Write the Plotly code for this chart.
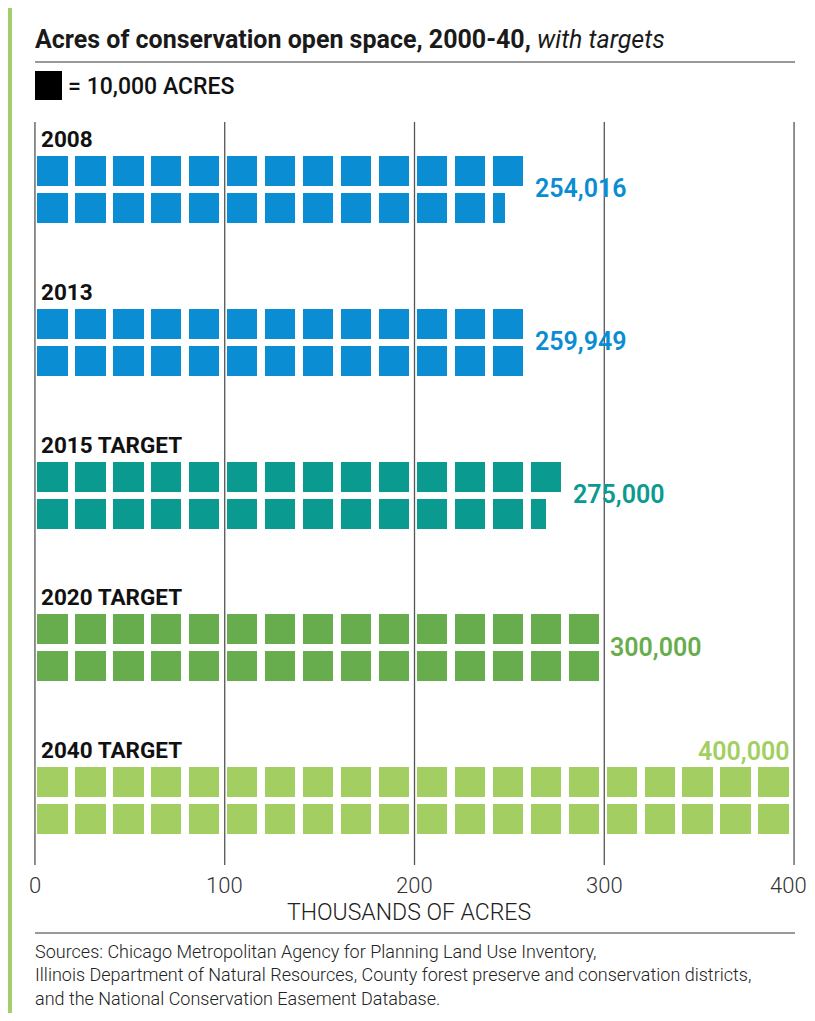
import math
import plotly.graph_objects as go

# values in acres, one square = 10,000 acres, two rows per category
categories = ["2008", "2013", "2015 TARGET", "2020 TARGET", "2040 TARGET"]
acres = [254016, 259949, 275000, 300000, 400000]
value_labels = ["254,016", "259,949", "275,000", "300,000", "400,000"]
colors = ["#0a8dd3", "#0a8dd3", "#0a9a8f", "#68ad4d", "#a3cf62"]
tick_vals = [0, 100, 200, 300, 400]
tick_text = ["0", "100", "200", "300", "400"]

SQUARE = 10000
# the page body adds an 8px margin, so the figure is 16px smaller than the window
OFF = 8
W, H = 815 - 2 * OFF, 1021 - 2 * OFF
PLOT_TOP, PLOT_BOT = 122, 865          # page pixels
PLOT_L, PLOT_R = 34, 795
FONT = "Roboto, 'Open Sans', sans-serif"


def py(pix):
    # page pixel (from top) -> paper y
    return (PLOT_BOT - pix) / (PLOT_BOT - PLOT_TOP)


def px(pix):
    return (pix - PLOT_L) / (PLOT_R - PLOT_L)


fig = go.Figure()

group_top0, group_pitch = 156, 152.75
sq_w, sq_off, row_h, row_pitch = 16.0, 1.2, 30, 37

for i, (cat, val, col) in enumerate(zip(categories, acres, colors)):
    n = val / SQUARE
    full_cols = math.floor(n / 2)
    rem = n - 2 * full_cols
    top = group_top0 + i * group_pitch
    ys, xs, bases = [], [], []
    for c in range(full_cols):
        for r in range(2):
            ys.append(top + 15 + r * row_pitch)
            xs.append(sq_w)
            bases.append(c * 20 + sq_off)
    if rem > 0:
        top_frac = min(rem, 1)
        bot_frac = max(rem - 1, 0)
        ys.append(top + 15)
        xs.append(sq_w * top_frac)
        bases.append(full_cols * 20 + sq_off)
        if bot_frac > 0:
            ys.append(top + 15 + row_pitch)
            xs.append(sq_w * bot_frac)
            bases.append(full_cols * 20 + sq_off)
    fig.add_trace(go.Bar(
        x=xs, y=ys, base=bases, orientation="h", width=row_h,
        marker=dict(color=col, line=dict(width=0)),
        hoverinfo="skip", showlegend=False,
    ))

    # category label
    fig.add_annotation(
        x=px(39), y=py(top - 17), xref="paper", yref="paper",
        text=f"<b>{cat}</b>", showarrow=False, xanchor="left", yanchor="middle",
        font=dict(family=FONT, size=22.5, color="#111111"),
    )
    # value label, beside the bar or above it when there is no room
    top_end = (full_cols - (0 if rem > 0 else 1)) * 20 + sq_off + sq_w
    if top_end + 50 > 400:
        fig.add_annotation(
            x=399, y=py(top - 16), xref="x", yref="paper",
            text=value_labels[i], showarrow=False, xanchor="right", yanchor="middle",
            font=dict(family=FONT, size=25, color=col, weight=600),
        )
    else:
        fig.add_annotation(
            x=top_end + 5, y=py(top + 33), xref="x", yref="paper",
            text=value_labels[i], showarrow=False, xanchor="left", yanchor="middle",
            font=dict(family=FONT, size=25, color=col, weight=600),
        )

# x tick labels; the last one is nudged left so it stays on the page
for t, lab in zip(tick_vals, tick_text):
    fig.add_annotation(
        x=t, y=py(885), xref="x", yref="paper", text=lab, showarrow=False,
        xanchor="center", yanchor="middle", xshift=-6 if t == tick_vals[-1] else 0,
        font=dict(family=FONT, size=22, color="#333333", weight=300),
    )
fig.add_annotation(
    x=px(409), y=py(912), xref="paper", yref="paper", text="THOUSANDS OF ACRES",
    showarrow=False, xanchor="center", yanchor="middle",
    font=dict(family=FONT, size=23, color="#222222", weight=300),
)

# title
fig.add_annotation(
    x=px(33), y=py(40), xref="paper", yref="paper",
    text="<b>Acres of conservation open space, 2000-40,</b> <i>with targets</i>",
    showarrow=False, xanchor="left", yanchor="middle",
    font=dict(family=FONT, size=25, color="#1a1a1a"),
)
fig.add_annotation(
    x=px(66), y=py(86), xref="paper", yref="paper",
    text="= 10,000 ACRES", showarrow=False, xanchor="left", yanchor="middle",
    font=dict(family=FONT, size=23, color="#111111", weight=500),
)
fig.add_annotation(
    x=px(33), y=py(975), xref="paper", yref="paper",
    text=("Sources: Chicago Metropolitan Agency for Planning Land Use Inventory,<br>"
          "Illinois Department of Natural Resources, County forest preserve and conservation districts,<br>"
          "and the National Conservation Easement Database."),
    showarrow=False, xanchor="left", yanchor="middle", align="left",
    font=dict(family=FONT, size=18, color="#222222", weight=300),
)

shapes = [
    # green page border (what is left of it inside the figure)
    dict(type="rect", xref="paper", yref="paper", x0=px(OFF), x1=px(12), y0=py(H + OFF), y1=py(OFF),
         fillcolor="#a3cf6a", line=dict(width=0), layer="below"),
    # rules
    dict(type="line", xref="paper", yref="paper", x0=px(35), x1=px(795), y0=py(62), y1=py(62),
         line=dict(color="#777777", width=1.5)),
    dict(type="line", xref="paper", yref="paper", x0=px(35), x1=px(795), y0=py(933), y1=py(933),
         line=dict(color="#777777", width=1.5)),
    # legend square
    dict(type="rect", xref="paper", yref="paper", x0=px(35), x1=px(62), y0=py(100), y1=py(71),
         fillcolor="#000000", line=dict(width=0)),
]
# vertical grid lines, including the ones at both ends of the axis
for t in tick_vals:
    shapes.append(dict(type="line", xref="x", yref="paper", x0=t, x1=t, y0=0, y1=1,
                       line=dict(color="#555555", width=1.3), layer="below"))

fig.update_layout(
    width=W, height=H,
    margin=dict(l=PLOT_L - OFF, r=W + OFF - PLOT_R, t=PLOT_TOP - OFF, b=H + OFF - PLOT_BOT,
                autoexpand=False),
    paper_bgcolor="white", plot_bgcolor="white",
    barmode="overlay", bargap=0,
    shapes=shapes,
    font=dict(family=FONT),
    xaxis=dict(
        range=[-0.5, 400.5], showticklabels=False,
        showgrid=False, zeroline=False, showline=False, ticks="",
        automargin=False, fixedrange=True,
    ),
    yaxis=dict(range=[PLOT_BOT, PLOT_TOP], visible=False, fixedrange=True),
)

fig.write_html("out.html")
